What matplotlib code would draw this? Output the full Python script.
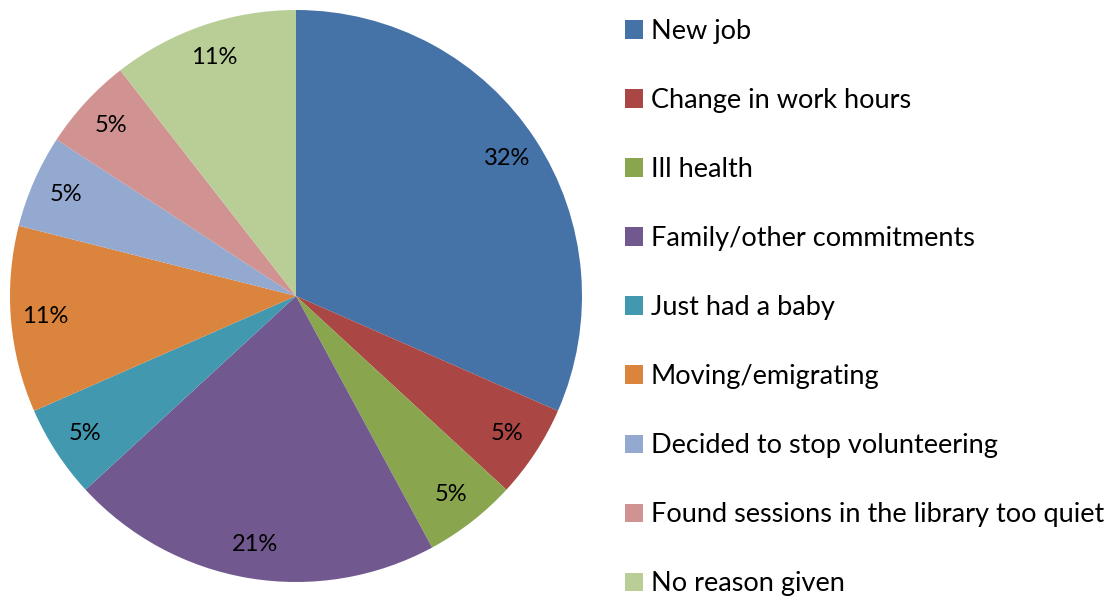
import matplotlib
matplotlib.use("Agg")
import matplotlib.pyplot as plt

# Reasons for leaving (counts out of 19 respondents)
reasons = [
    "New job",
    "Change in work hours",
    "Ill health",
    "Family/other commitments",
    "Just had a baby",
    "Moving/emigrating",
    "Decided to stop volunteering",
    "Found sessions in the library too quiet",
    "No reason given",
]
counts = [6, 1, 1, 4, 1, 2, 1, 1, 2]
colors = ["#4572A7", "#AA4643", "#89A54E", "#71588F", "#4198AF",
          "#DB843D", "#93A9CF", "#D19392", "#B9CD96"]

plt.rcParams['font.family'] = ['Lato', 'DejaVu Sans']

W, H = 1115, 599
fig = plt.figure(figsize=(W / 100, H / 100), dpi=100)

# pie centre (296, 296) px, radius 286 px
cx, cy, r = 296, 296, 286
ax = fig.add_axes([(cx - r) / W, (H - cy - r) / H, 2 * r / W, 2 * r / H])
wedges, texts, autotexts = ax.pie(
    counts, colors=colors, startangle=90, counterclock=False,
    autopct="%1.0f%%", pctdistance=0.88,
    wedgeprops=dict(linewidth=0),
    textprops=dict(fontsize=17, color="black"),
)
ax.set_xlim(-1, 1)
ax.set_ylim(-1, 1)
ax.set_aspect("equal")
for w in wedges:
    w.set_clip_on(False)

fig.legend(wedges, reasons, loc="upper left",
           bbox_to_anchor=(625 / W, 1 - 19 / H),
           frameon=False, fontsize=19.5,
           handlelength=0.65, handleheight=0.65, handletextpad=0.3,
           labelspacing=1.625, borderpad=0, borderaxespad=0)

fig.savefig("out.png", dpi=100)
